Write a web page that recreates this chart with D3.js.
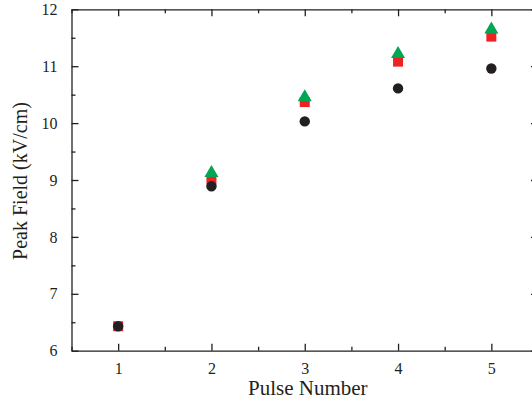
<!DOCTYPE html>
<html><head><meta charset="utf-8">
<script src="https://cdn.jsdelivr.net/npm/d3@7"></script>
<style>body{margin:0;background:#fff}svg{display:block}</style>
</head><body>
<script>
const pulses = [1, 2, 3, 4, 5];
const circleVals = [6.43, 8.89, 10.03, 10.61, 10.96];
const squareVals = [6.43, 9.01, 10.37, 11.08, 11.52];
const triangleVals = [null, 9.15, 10.48, 11.24, 11.67];
const xTicks = [1, 2, 3, 4, 5];
const yTicks = [6, 7, 8, 9, 10, 11, 12];

const W = 532, H = 404;
const svg = d3.select("body").append("svg").attr("width", W).attr("height", H);
const L = 71.5, R = 538, T = 9.3, B = 350.7;
const x = d3.scaleLinear().domain([0.5, 5.5]).range([L, R]);
const y = d3.scaleLinear().domain([6, 12]).range([B, T]);
const font = "'Liberation Serif','Times New Roman',serif";
const axisCol = "#231f20";

// markers
const sq = d3.symbol().type(d3.symbolSquare).size(100);
const tri = d3.symbol().type(d3.symbolTriangle).size(85);
svg.append("g").selectAll("path").data(pulses).join("path")
  .attr("d", sq).attr("fill", "#ed2224")
  .attr("transform", (d, i) => `translate(${x(d)},${y(squareVals[i])})`);
const triData = pulses.map((p, i) => ({p, v: triangleVals[i]})).filter(d => d.v != null);
svg.append("g").selectAll("path").data(triData).join("path")
  .attr("d", tri).attr("fill", "#00a651")
  .attr("transform", d => `translate(${x(d.p)},${y(d.v) + 1.5})`);
svg.append("g").selectAll("circle").data(pulses).join("circle")
  .attr("cx", d => x(d)).attr("cy", (d, i) => y(circleVals[i])).attr("r", 5.2)
  .attr("fill", axisCol);

// axes
const minorX = d3.range(0.5, 5.51, 0.5).filter(v => !xTicks.includes(v));
const minorY = d3.range(6.5, 12, 1);
function styleAxis(g) {
  g.selectAll("path.domain").attr("stroke", axisCol).attr("stroke-width", 1.3);
  g.selectAll("line").attr("stroke", axisCol).attr("stroke-width", 1.3);
  g.selectAll("text").attr("font-family", font).attr("font-size", 16).attr("fill", axisCol);
}
const gx = svg.append("g").attr("transform", `translate(0,${B})`)
  .call(d3.axisBottom(x).tickValues(xTicks).tickFormat(d3.format("d")).tickSizeInner(-7).tickSizeOuter(0).tickPadding(12));
styleAxis(gx);
svg.append("g").attr("transform", `translate(0,${B})`)
  .call(d3.axisBottom(x).tickValues(minorX).tickFormat("").tickSizeInner(-4).tickSizeOuter(0)).call(styleAxis)
  .select(".domain").remove();
const gxt = svg.append("g").attr("transform", `translate(0,${T})`)
  .call(d3.axisTop(x).tickValues(xTicks).tickFormat("").tickSizeInner(-7).tickSizeOuter(0));
styleAxis(gxt);
svg.append("g").attr("transform", `translate(0,${T})`)
  .call(d3.axisTop(x).tickValues(minorX).tickFormat("").tickSizeInner(-4).tickSizeOuter(0)).call(styleAxis)
  .select(".domain").remove();

const gy = svg.append("g").attr("transform", `translate(${L},0)`)
  .call(d3.axisLeft(y).tickValues(yTicks).tickFormat(d3.format("d")).tickSizeInner(-7).tickSizeOuter(0).tickPadding(14));
styleAxis(gy);
svg.append("g").attr("transform", `translate(${L},0)`)
  .call(d3.axisLeft(y).tickValues(minorY).tickFormat("").tickSizeInner(-4).tickSizeOuter(0)).call(styleAxis)
  .select(".domain").remove();
const gyr = svg.append("g").attr("transform", `translate(${R},0)`)
  .call(d3.axisRight(y).tickValues(yTicks).tickFormat("").tickSizeInner(-7).tickSizeOuter(0));
styleAxis(gyr);
svg.append("g").attr("transform", `translate(${R},0)`)
  .call(d3.axisRight(y).tickValues(minorY).tickFormat("").tickSizeInner(-4).tickSizeOuter(0)).call(styleAxis)
  .select(".domain").remove();

// titles
svg.append("text").attr("x", (L + R) / 2 + 3).attr("y", 395)
  .attr("text-anchor", "middle").attr("font-family", font).attr("font-size", 21).attr("fill", axisCol)
  .text("Pulse Number");
svg.append("text").attr("transform", `translate(27,${(T + B) / 2 + 1}) rotate(-90)`)
  .attr("text-anchor", "middle").attr("font-family", font).attr("font-size", 20).attr("fill", axisCol)
  .text("Peak Field (kV/cm)");
</script>
</body></html>
